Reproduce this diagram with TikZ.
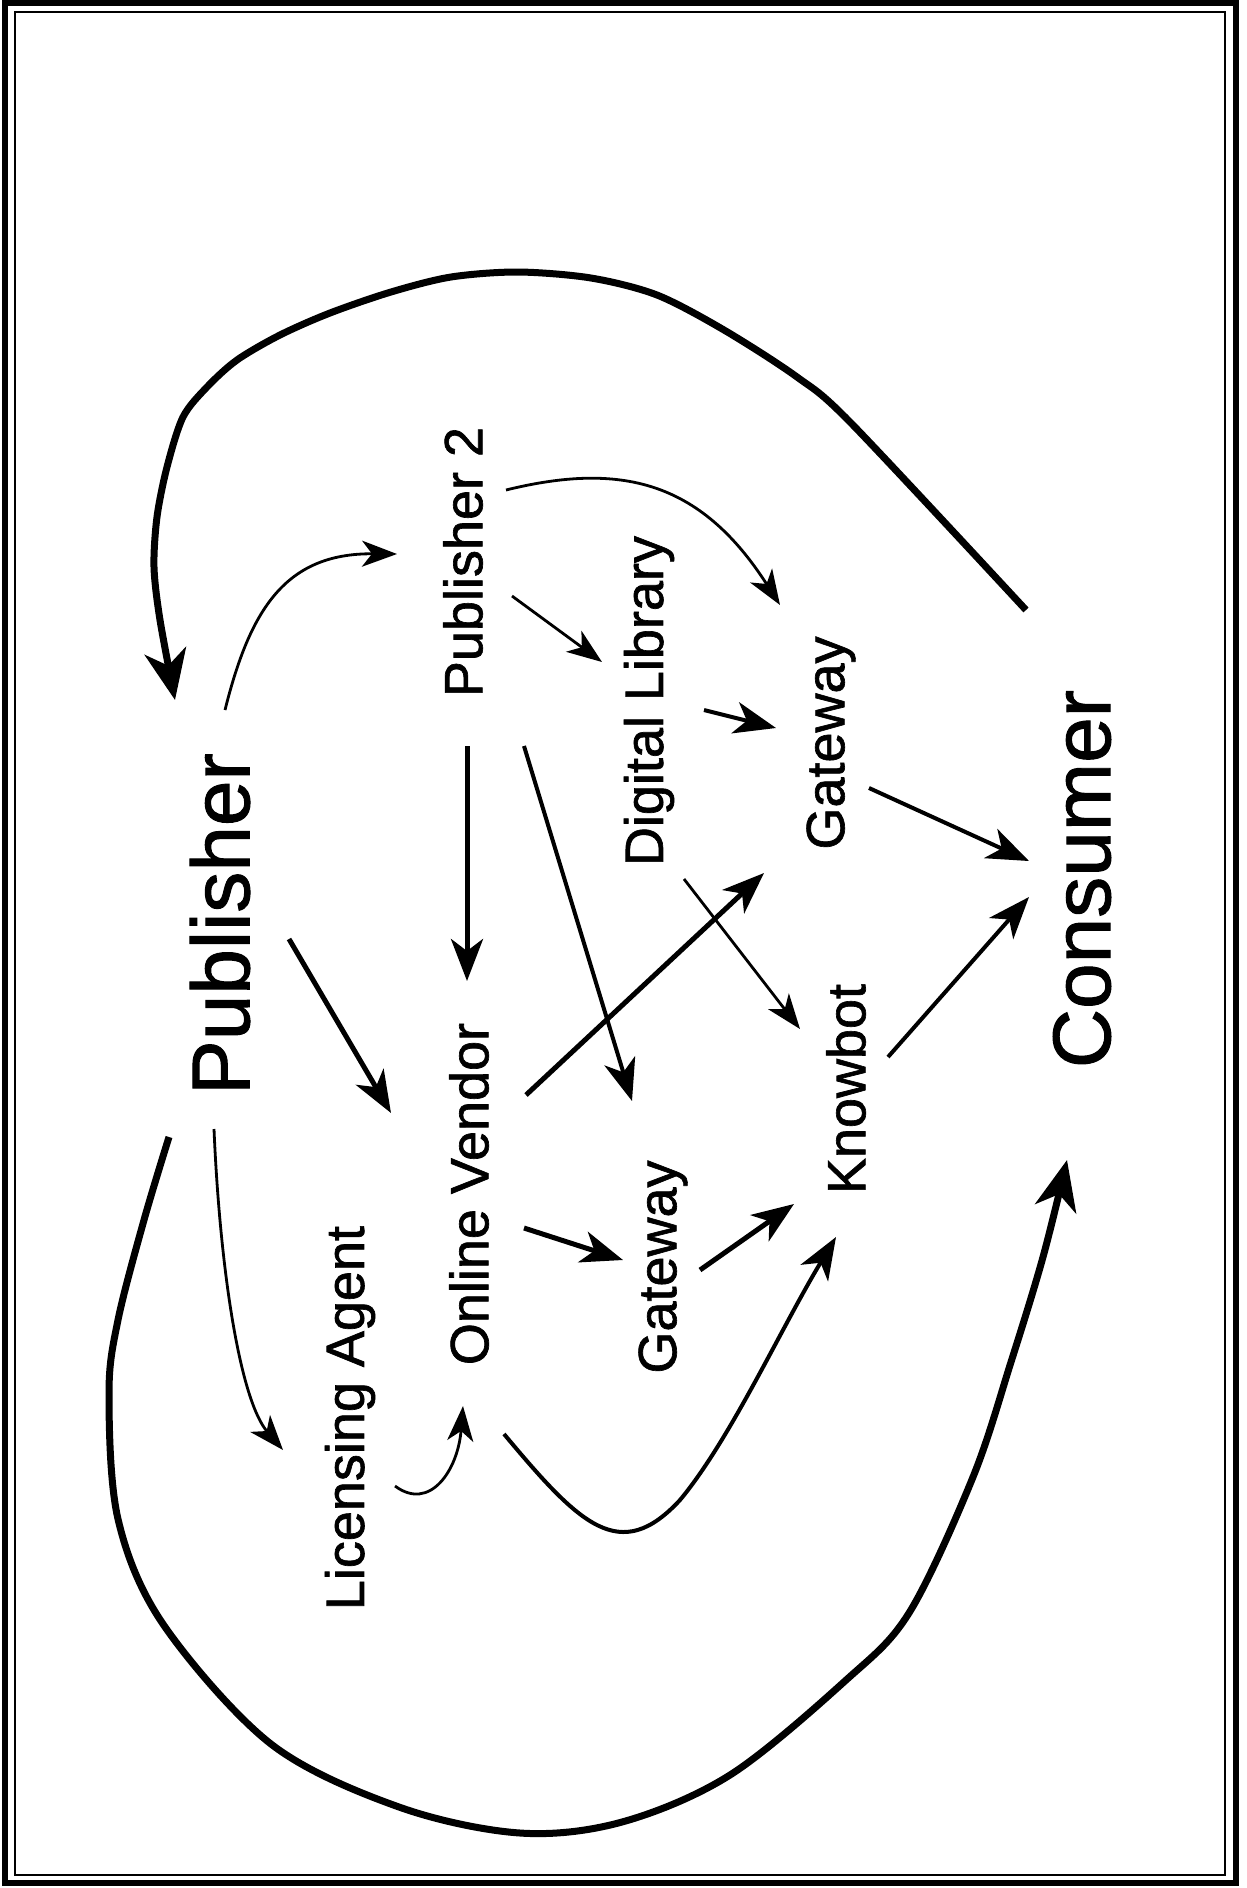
\documentclass[tikz,border=0pt]{standalone}
\usepackage{fontspec}
\setmainfont{Liberation Sans}
\newfontfamily\scanfont{Liberation Sans}[FakeBold=1.2]
\usetikzlibrary{arrows.meta,calc}

\tikzset{
  bigparty/.style={rotate=90, inner sep=0pt, font=\scanfont\fontsize{82}{90}\selectfont},
  party/.style={rotate=90, inner sep=0pt, font=\scanfont\fontsize{54}{60}\selectfont},
  bigarr/.style={-{Stealth[length=50pt,width=42pt,inset=15pt]}, line width=7pt},
  arr/.style={-{Stealth[length=42pt,width=32pt,inset=12pt]}, line width=5pt},
  midarr/.style={-{Stealth[length=42pt,width=32pt,inset=12pt]}, line width=4pt},
  thinarr/.style={-{Stealth[length=35pt,width=26pt,inset=10pt]}, line width=2.8pt},
}

\begin{document}
\begin{tikzpicture}[x=1pt, y=-1pt]
  \useasboundingbox (0,0) rectangle (1247,1888);
  % Frame
  \draw[line width=6pt] (5,3) rectangle (1236,1883);
  \draw[line width=2pt] (14.5,11.5) rectangle (1225,1875);

  % Parties
  \node[bigparty] (pub) at (220,924) {Publisher};
  \node[bigparty] (consumer) at (1082,879) {Consumer};
  \node[party] (pubtwo) at (463,562) {Publisher 2};
  \node[party] (vendor) at (469,1194) {Online Vendor};
  \node[party] (agent) at (350,1418) {Licensing Agent};
  \node[party] (diglib) at (649,701) {Digital Library};
  \node[party] (gatetop) at (831,743) {Gateway};
  \node[party] (gatelow) at (663,1267) {Gateway};
  \node[party] (knowbot) at (846,1089) {Knowbot};

  % Big loops between publisher and consumer
  \draw[bigarr] plot[smooth, tension=0.5] coordinates {
    ($(consumer)+(-56,-269)$) (851,423) (797,377) (724,330) (657,295)
    (591,278) (518,272) (451,277) (391,292) (330,313) (280,335) (237,360)
    (207,387) (183,417) (167,467) (157,517) (154,567) (160,620)
    ($(pub)+(-45,-224)$)};
  \draw[bigarr] plot[smooth, tension=0.55] coordinates {
    ($(pub)+(-51,213)$) (144,1220) (118,1320) (109,1393) (118,1519)
    (163,1624) (271,1744) (399,1807) (520,1833) (622,1822) (730,1775)
    (845,1681) (909,1613) (973,1477) (1011,1362) (1043,1257)
    ($(consumer)+(-15,281)$)};

  % Curved links
  \draw[thinarr] ($(pub)+(5,-214)$) .. controls (250,610) and (285,553) .. ($(pubtwo)+(-66,-8)$);
  \draw[thinarr] ($(pub)+(-6,205)$) .. controls (220,1270) and (240,1400) .. ($(agent)+(-67,32)$);
  \draw[thinarr] ($(agent)+(45,68)$) .. controls (430,1512) and (458,1470) .. ($(vendor)+(-6,212)$);
  \draw[thinarr] ($(pubtwo)+(43,-72)$) .. controls (620,462) and (700,480) .. ($(gatetop)+(-51,-138)$);
  \draw[midarr] ($(vendor)+(35,240)$) .. controls (580,1525) and (620,1565) .. (680,1500)
    .. controls (730,1440) and (780,1330) .. ($(knowbot)+(-10,148)$);

  % Straight links
  \draw[arr] ($(pub)+(69,15)$) -- ($(vendor)+(-78,-81)$);
  \draw[arr] ($(pubtwo)+(4,184)$) -- ($(vendor)+(-2,-213)$);
  \draw[thinarr] ($(pubtwo)+(49,34)$) -- ($(diglib)+(-47,-39)$);
  \draw[midarr] ($(pubtwo)+(61,184)$) -- ($(gatelow)+(-31,-166)$);
  \draw[midarr] ($(diglib)+(55,9)$) -- ($(gatetop)+(-55,-15)$);
  \draw[thinarr] ($(diglib)+(35,178)$) -- ($(knowbot)+(-46,-60)$);
  \draw[arr] ($(vendor)+(57,-99)$) -- ($(gatetop)+(-67,130)$);
  \draw[midarr] ($(gatetop)+(38,45)$) -- ($(consumer)+(-53,-18)$);
  \draw[midarr] ($(knowbot)+(42,-32)$) -- ($(consumer)+(-53,18)$);
  \draw[arr] ($(vendor)+(55,34)$) -- ($(gatelow)+(-40,-7)$);
  \draw[arr] ($(gatelow)+(37,3)$) -- ($(knowbot)+(-52,115)$);
\end{tikzpicture}
\end{document}
